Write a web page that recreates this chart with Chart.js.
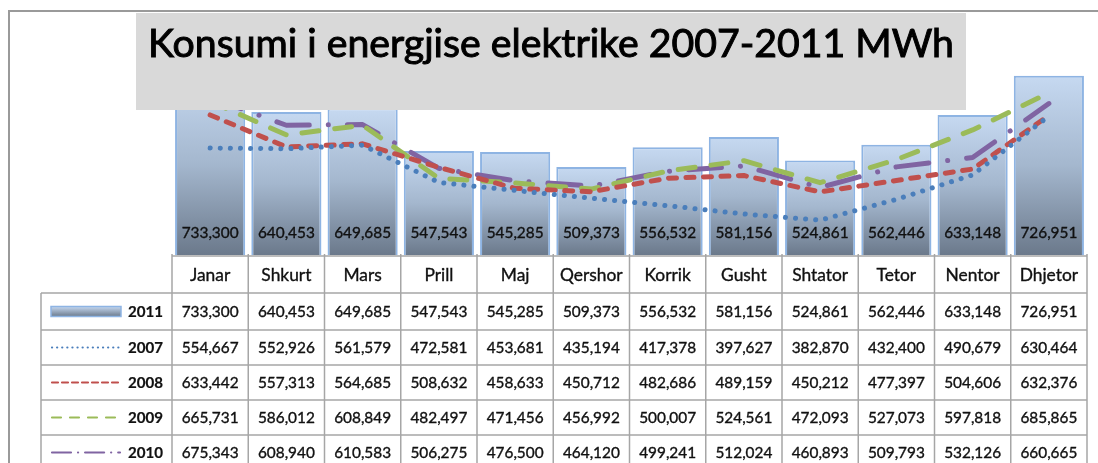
<!DOCTYPE html>
<html>
<head>
<meta charset="utf-8">
<script src="https://cdn.jsdelivr.net/npm/chart.js@4.4.1/dist/chart.umd.min.js"></script>
<style>
  html,body{margin:0;padding:0;background:#fff;}
</style>
</head>
<body>
<canvas id="chart" width="1098" height="463"></canvas>
<script>
// DATA
const months = ['Janar','Shkurt','Mars','Prill','Maj','Qershor','Korrik','Gusht','Shtator','Tetor','Nentor','Dhjetor'];
const v2011 = [733300,640453,649685,547543,545285,509373,556532,581156,524861,562446,633148,726951];
const v2007 = [554667,552926,561579,472581,453681,435194,417378,397627,382870,432400,490679,630464];
const v2008 = [633442,557313,564685,508632,458633,450712,482686,489159,450212,477397,504606,632376];
const v2009 = [665731,586012,608849,482497,471456,456992,500007,524561,472093,527073,597818,685865];
const v2010 = [675343,608940,610583,506275,476500,464120,499241,512024,460893,509793,532126,660665];
const titleText = 'Konsumi i energjise elektrike 2007-2011 MWh';

const FONT = 'Lato, "Open Sans", sans-serif';
const fmt = n => n.toLocaleString('en-US');

// dash patterns for the little keys in the table
const keyDash = {
  '2007': [0.1, 5],
  '2008': [6, 4],
  '2009': [9, 9],
  '2010': [19, 7, 0.1, 7]
};

function barGradient(ctx){
  const c = ctx.chart;
  if(!c.chartArea || ctx.type !== 'data') return '#a8bcd4';
  const top = c.scales.y.getPixelForValue(ctx.raw);
  const g = c.ctx.createLinearGradient(0, top, 0, c.chartArea.bottom);
  g.addColorStop(0, '#c6d9f1');
  g.addColorStop(0.5, '#a4b7ce');
  g.addColorStop(1, '#6b798b');
  return g;
}

function lineSet(label, data, color, dash){
  return {
    type:'line',
    label,
    data,
    borderColor:color,
    backgroundColor:color,
    borderWidth:5,
    borderDash:dash,
    borderCapStyle:'round',
    borderJoinStyle:'round',
    pointRadius:0,
    tension:0,
    fill:false,
    order:0
  };
}

// fit a font size so that text has a given width
function fitFont(c, text, width, weight){
  c.font = weight + ' 40px ' + FONT;
  const w = c.measureText(text).width;
  return weight + ' ' + (40 * width / w).toFixed(2) + 'px ' + FONT;
}

// text a bit heavier, like the cleartype original
function heavyText(c, text, x, y, extra){
  c.fillText(text, x, y);
  c.lineWidth = extra;
  c.strokeStyle = c.fillStyle;
  c.strokeText(text, x, y);
}

// ======================================
// PLUGIN: frame, labels, title box, table
// ======================================
const excelBits = {
  id:'excelBits',

  beforeDraw(chart){
    const c = chart.ctx;
    c.save();
    c.fillStyle = '#fff';
    c.fillRect(0,0,chart.width,chart.height);
    c.strokeStyle = '#9a9a9a';
    c.lineWidth = 2;
    c.beginPath();
    c.moveTo(9, chart.height);
    c.lineTo(9, 11);
    c.lineTo(chart.width, 11);
    c.stroke();
    c.restore();
  },

  afterDatasetsDraw(chart){
    const c = chart.ctx;
    const area = chart.chartArea;
    const xs = chart.scales.x;
    const colW = (area.right - area.left) / months.length;
    const numFont = fitFont(c, '733,300', 57, 'normal');

    // labels inside bars
    const barMeta = chart.getDatasetMeta(0);
    c.save();
    c.font = numFont;
    c.fillStyle = '#111';
    c.textAlign = 'center';
    c.textBaseline = 'middle';
    barMeta.data.forEach((bar,i)=>{
      heavyText(c, fmt(chart.data.datasets[0].data[i]), bar.x, area.bottom - 22, 0.35);
    });
    c.restore();

    // title box
    c.save();
    c.fillStyle = '#d9d9d9';
    c.fillRect(136, 13, 830, 97);
    c.font = fitFont(c, titleText, 806, 'normal');
    c.fillStyle = '#000';
    c.textAlign = 'center';
    c.textBaseline = 'alphabetic';
    heavyText(c, titleText, 551, 57, 1);
    c.restore();

    // data table
    const rows = [256, 293, 330, 365, 400, 435, 470];
    const tableLeft = 41;
    c.save();
    c.strokeStyle = '#a6a6a6';
    c.lineWidth = 1.5;
    c.beginPath();
    c.moveTo(area.left, rows[0]); c.lineTo(area.right, rows[0]);
    for(let i=1;i<rows.length;i++){
      c.moveTo(tableLeft, rows[i]); c.lineTo(area.right, rows[i]);
    }
    for(let i=0;i<=months.length;i++){
      const x = area.left + i*colW;
      c.moveTo(x, rows[0]-2); c.lineTo(x, rows[rows.length-1]);
    }
    c.moveTo(tableLeft, rows[1]); c.lineTo(tableLeft, rows[rows.length-1]);
    c.stroke();

    c.fillStyle = '#111';
    c.textAlign = 'center';
    c.textBaseline = 'middle';
    c.font = fitFont(c, 'Shtator', 56, 'normal');
    months.forEach((m,i)=>{
      heavyText(c, m, xs.getPixelForValue(i), (rows[0]+rows[1])/2 + 1, 0.35);
    });

    const yearFont = fitFont(c, '2011', 35, 'bold');
    chart.data.datasets.forEach((ds,r)=>{
      const yMid = (rows[r+1]+rows[r+2])/2 + 1;
      c.font = numFont;
      c.textAlign = 'center';
      c.fillStyle = '#111';
      ds.data.forEach((v,i)=>{
        heavyText(c, fmt(v), xs.getPixelForValue(i), yMid, 0.35);
      });

      // key
      c.font = yearFont;
      c.textAlign = 'right';
      heavyText(c, ds.label, 163, yMid, 0.2);

      if(ds.type === 'line'){
        c.save();
        c.strokeStyle = ds.borderColor;
        c.lineWidth = 2.2;
        c.lineCap = 'round';
        c.setLineDash(keyDash[ds.label]);
        c.beginPath();
        c.moveTo(52, yMid - 1);
        c.lineTo(120, yMid - 1);
        c.stroke();
        c.restore();
      } else {
        const g = c.createLinearGradient(0, yMid-6, 0, yMid+4);
        g.addColorStop(0,'#c6d9f1');
        g.addColorStop(1,'#6b798b');
        c.fillStyle = g;
        c.fillRect(51, yMid-6, 70, 10);
        c.strokeStyle = '#8eb4e3';
        c.lineWidth = 1.5;
        c.strokeRect(51, yMid-6, 70, 10);
        c.fillStyle = '#111';
      }
    });
    c.restore();
  }
};

// ======================================
// CHART
// ======================================
const ctx = document.getElementById('chart');

new Chart(ctx, {

  type:'bar',

  data:{
    labels:months,

    datasets:[
      {
        label:'2011',
        data:v2011,
        backgroundColor:barGradient,
        borderColor:'#8eb4e3',
        borderWidth:2,
        borderSkipped:false,
        barPercentage:0.92,
        categoryPercentage:1.0,
        order:1
      },
      lineSet('2007', v2007, '#4a7ebb', [0.1, 10]),
      lineSet('2008', v2008, '#c0504d', [8, 9.5]),
      lineSet('2009', v2009, '#9bbb59', [17, 16]),
      lineSet('2010', v2010, '#8064a2', [33, 19, 0.1, 19])
    ]
  },

  options:{

    responsive:false,
    animation:false,

    layout:{
      padding:{left:172, right:11, top:45, bottom:208}
    },

    plugins:{
      legend:{display:false},
      tooltip:{enabled:false}
    },

    scales:{
      x:{display:false},
      y:{display:false, min:300000, max:800000}
    }
  },

  plugins:[excelBits]
});
</script>
</body>
</html>
